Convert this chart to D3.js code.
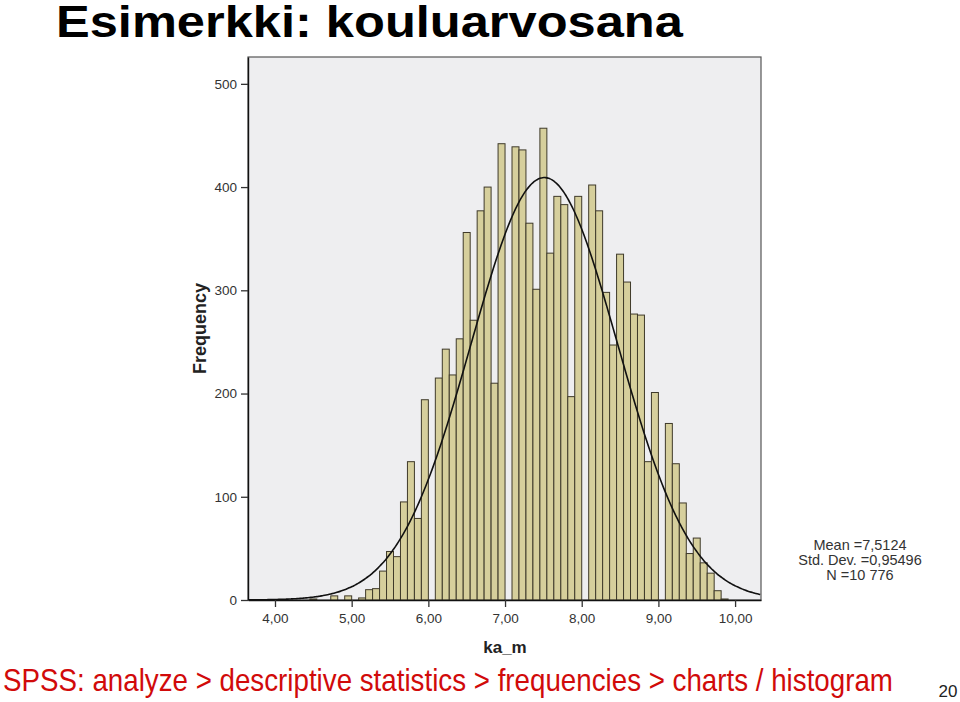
<!DOCTYPE html>
<html>
<head>
<meta charset="utf-8">
<script src="https://cdn.jsdelivr.net/npm/d3@7"></script>
<style>
  html, body { margin: 0; padding: 0; background: #ffffff; }
  svg { display: block; }
</style>
</head>
<body>
<svg id="chart" width="960" height="702"></svg>
<script>
// ---------- data ----------
const binStart = 4.0;           // left edge of the first bin
const binWidth = 1 / 11;        // SPSS bin width
// frequencies per bin, starting at 4.00
const counts = [
  0, 0, 0, 0, 0, 1, 0, 0, 4, 0, 4,            // 4.00 - 5.00
  0, 2, 10, 11, 28, 47, 42, 95, 134, 79, 194, // 5.00 - 6.00
  0, 215, 243, 218, 253, 356, 271, 377, 400, 210, 442, // 6.00 - 7.00
  0, 439, 436, 365, 301, 457, 336, 391, 383, 197, 391, // 7.00 - 8.00
  0, 402, 377, 298, 247, 335, 308, 277, 276, 134, 201, // 8.00 - 9.00
  0, 171, 132, 94, 45, 60, 36, 26, 9, 1, 0             // 9.00 - 10.00
];
const xTicks = [4, 5, 6, 7, 8, 9, 10];
const yTicks = [0, 100, 200, 300, 400, 500];
const stats = { mean: 7.5124, sd: 0.95496, n: 10776 };
const statLines = ["Mean =7,5124", "Std. Dev. =0,95496", "N =10 776"];
const title = "Esimerkki: kouluarvosana";
const footer = "SPSS: analyze > descriptive statistics > frequencies > charts / histogram";
const pageNo = "20";

// ---------- layout ----------
const svg = d3.select("#chart");
const plot = { left: 248, right: 761, top: 57, bottom: 600 };

const x = d3.scaleLinear().domain([3.648, 10.338]).range([plot.left, plot.right]);
const y = d3.scaleLinear().domain([0, 526]).range([plot.bottom, plot.top]);

// helper: draw text and stretch it horizontally to a target width
function fitText(sel, targetWidth, tx, ty) {
  const w = sel.node().getComputedTextLength();
  sel.attr("transform", `translate(${tx},${ty}) scale(${targetWidth / w},1)`);
}

// title
const titleText = svg.append("text")
  .attr("font-family", "'Liberation Sans', Arial, sans-serif")
  .attr("font-weight", "bold")
  .attr("font-size", 45)
  .attr("fill", "#000")
  .text(title);
fitText(titleText, 627, 56, 37);

// plot background
svg.append("rect")
  .attr("x", plot.left).attr("y", plot.top)
  .attr("width", plot.right - plot.left).attr("height", plot.bottom - plot.top)
  .attr("fill", "#eeeef0")
  .attr("stroke", "#555").attr("stroke-width", 1.2);

// bars
const bins = counts.map((c, i) => ({ x0: binStart + i * binWidth, x1: binStart + (i + 1) * binWidth, c }));
svg.append("g")
  .selectAll("rect")
  .data(bins.filter(d => d.c > 0))
  .join("rect")
  .attr("x", d => x(d.x0))
  .attr("y", d => y(d.c))
  .attr("width", d => x(d.x1) - x(d.x0))
  .attr("height", d => y(0) - y(d.c))
  .attr("fill", "#d6cf9c")
  .attr("stroke", "#3f3a2a")
  .attr("stroke-width", 1);

// normal curve (fitted from the stated mean, sd and N)
svg.append("clipPath").attr("id", "clip")
  .append("rect").attr("x", plot.left).attr("y", plot.top)
  .attr("width", plot.right - plot.left).attr("height", plot.bottom - plot.top);
const pdf = v => stats.n * binWidth * Math.exp(-0.5 * ((v - stats.mean) / stats.sd) ** 2) / (stats.sd * Math.sqrt(2 * Math.PI));
const curveX = d3.range(x.domain()[0], x.domain()[1] + 0.01, 0.02);
svg.append("path")
  .datum(curveX)
  .attr("clip-path", "url(#clip)")
  .attr("fill", "none")
  .attr("stroke", "#111")
  .attr("stroke-width", 1.6)
  .attr("d", d3.line().x(v => x(v)).y(v => y(pdf(v))).curve(d3.curveBasis));

// axes
const yAxis = svg.append("g")
  .attr("transform", `translate(${plot.left},0)`)
  .call(d3.axisLeft(y).tickValues(yTicks).tickSize(7).tickSizeOuter(0).tickPadding(4));
const xAxis = svg.append("g")
  .attr("transform", `translate(0,${plot.bottom})`)
  .call(d3.axisBottom(x).tickValues(xTicks).tickSize(7).tickSizeOuter(0).tickPadding(6)
    .tickFormat(d => d3.format(".2f")(d).replace(".", ",")));
[yAxis, xAxis].forEach(g => {
  g.select(".domain").attr("stroke", "#111").attr("stroke-width", 1.4);
  g.selectAll(".tick line").attr("stroke", "#333").attr("stroke-width", 1.3);
  g.selectAll(".tick text")
    .attr("font-family", "'Liberation Sans', Arial, sans-serif")
    .attr("font-size", 13.5).attr("fill", "#333");
});

// axis titles
svg.append("text")
  .attr("transform", `translate(206,${(plot.top + plot.bottom) / 2}) rotate(-90)`)
  .attr("text-anchor", "middle")
  .attr("font-family", "'Liberation Sans', Arial, sans-serif")
  .attr("font-weight", "bold").attr("font-size", 18).attr("fill", "#222")
  .text("Frequency");
svg.append("text")
  .attr("x", 505).attr("y", 653)
  .attr("text-anchor", "middle")
  .attr("font-family", "'Liberation Sans', Arial, sans-serif")
  .attr("font-weight", "bold").attr("font-size", 17).attr("fill", "#222")
  .text("ka_m");

// stats box
svg.append("g").selectAll("text")
  .data(statLines)
  .join("text")
  .attr("x", 860).attr("y", (d, i) => 550 + i * 15)
  .attr("text-anchor", "middle")
  .attr("font-family", "'Liberation Sans', Arial, sans-serif")
  .attr("font-size", 14.5).attr("fill", "#333")
  .text(d => d);

// footer
const footText = svg.append("text")
  .attr("font-family", "'Liberation Sans Narrow', 'Arial Narrow', 'Liberation Sans', Arial, sans-serif")
  .attr("font-size", 32)
  .attr("fill", "#d10a0a")
  .text(footer);
fitText(footText, 890, 3, 691);
svg.append("text")
  .attr("x", 948).attr("y", 697)
  .attr("text-anchor", "middle")
  .attr("font-family", "'Liberation Sans', Arial, sans-serif")
  .attr("font-size", 17).attr("fill", "#222")
  .text(pageNo);
</script>
</body>
</html>
